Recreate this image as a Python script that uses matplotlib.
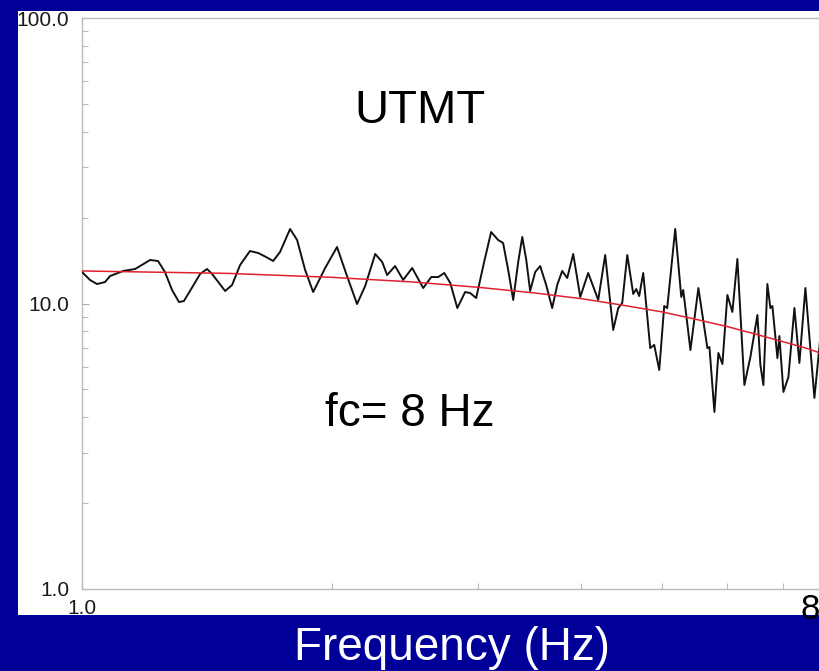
import matplotlib
matplotlib.use("Agg")
import matplotlib.pyplot as plt
from matplotlib.patches import Rectangle
from matplotlib.ticker import NullFormatter

# ---- data ----
freq_hz = [1.000, 1.0225, 1.0425, 1.066, 1.081, 1.121, 1.159, 1.175, 1.208, 1.235,
           1.259, 1.284, 1.309, 1.327, 1.361, 1.388, 1.415, 1.435, 1.488, 1.517,
           1.551, 1.594, 1.631, 1.667, 1.700, 1.733, 1.782, 1.817, 1.858, 1.900,
           1.964, 2.030, 2.087, 2.146, 2.195, 2.257, 2.301, 2.333, 2.385, 2.439,
           2.501, 2.579, 2.637, 2.689, 2.734, 2.780, 2.835, 2.897, 2.938, 2.987,
           3.054, 3.114, 3.175, 3.219, 3.265, 3.311, 3.357, 3.395, 3.433, 3.470,
           3.519, 3.568, 3.628, 3.689, 3.741, 3.793, 3.846, 3.911, 3.988, 4.077,
           4.192, 4.274, 4.370, 4.432, 4.481, 4.544, 4.620, 4.659, 4.697, 4.750,
           4.843, 4.897, 4.966, 5.035, 5.077, 5.191, 5.279, 5.308, 5.415, 5.536,
           5.676, 5.708, 5.788, 5.852, 5.918, 6.000, 6.084, 6.169, 6.290, 6.396,
           6.522, 6.576, 6.631, 6.705, 6.761, 6.799, 6.894, 6.932, 7.010, 7.108,
           7.227, 7.328, 7.451, 7.640, 7.768]
spectrum = [12.89, 12.09, 11.70, 11.89, 12.48, 13.00, 13.21, 13.53, 14.20, 14.09,
            12.89, 11.15, 10.12, 10.20, 11.52, 12.69, 13.21, 12.69, 11.06, 11.61,
            13.64, 15.27, 15.03, 14.55, 14.09, 15.15, 18.24, 16.69, 13.10, 10.97,
            13.31, 15.77, 12.48, 9.96, 11.52, 14.91, 13.98, 12.58, 13.53, 12.09,
            13.31, 11.33, 12.38, 12.38, 12.79, 11.80, 9.64, 10.97, 10.88, 10.45,
            13.98, 17.80, 16.69, 16.29, 13.10, 10.29, 13.98, 17.10, 14.20, 11.06,
            12.89, 13.53, 11.61, 9.64, 11.61, 13.00, 12.28, 14.91, 10.54, 12.79,
            10.29, 14.79, 8.08, 9.64, 10.04, 14.79, 10.80, 11.24, 10.62, 12.79,
            6.98, 7.16, 5.85, 9.80, 9.64, 18.24, 10.54, 11.15, 6.87, 11.33,
            6.98, 7.04, 4.17, 6.71, 6.14, 10.71, 9.34, 14.32, 5.18, 6.50,
            9.11, 6.09, 5.18, 11.70, 9.64, 9.80, 6.44, 7.69, 4.90, 5.53,
            9.64, 6.19, 11.33, 4.67, 7.63]

model_freq = [1.0, 1.5, 2.0, 2.5, 3.0, 3.5, 4.0, 4.5, 5.0, 5.5, 6.0, 6.5, 7.0, 7.5, 8.0]
model_amp = [13.0, 12.75, 12.35, 11.9, 11.4, 10.9, 10.4, 9.85, 9.35, 8.8, 8.3, 7.8, 7.35, 6.95, 6.5]

y_ticks = [1, 10, 100]
y_tick_labels = ["1.0", "10.0", "100.0"]
x_ticks = [1]
x_tick_labels = ["1.0"]
x_minor = [2, 3, 4, 5, 6, 7]

plt.rcParams['font.family'] = ['Liberation Sans', 'DejaVu Sans']

W, H = 820, 671
fig = plt.figure(figsize=(W / 100, H / 100), dpi=100)
navy = '#000099'
fig.patch.set_facecolor(navy)

# white panel
fig.patches.append(Rectangle((18 / W, (H - 615) / H), 802 / W, 604 / H,
                             transform=fig.transFigure, facecolor='white',
                             edgecolor='none', zorder=-5))

ax = fig.add_axes([82 / W, (H - 589) / H, (831 - 82) / W, 571 / H], zorder=2)
ax.set_facecolor('white')
ax.set_xscale('log')
ax.set_yscale('log')
ax.set_xlim(1, 8)
ax.set_ylim(1, 100)

ax.plot(freq_hz, spectrum, color='#111111', lw=1.4, zorder=3,
        solid_joinstyle='round', solid_capstyle='round')
ax.plot(model_freq, model_amp, color='#e0202e', lw=1.1, zorder=4)

for side in ['left', 'bottom', 'top']:
    ax.spines[side].set_color('#bbbbbb')
    ax.spines[side].set_linewidth(1.0)
ax.spines['right'].set_visible(False)

ax.set_yticks(y_ticks)
ax.set_yticklabels(y_tick_labels)
ax.set_xticks(x_ticks)
ax.set_xticklabels(x_tick_labels)
ax.set_xticks(x_minor, minor=True)
ax.xaxis.set_minor_formatter(NullFormatter())
ax.yaxis.set_minor_formatter(NullFormatter())
ax.tick_params(axis='both', which='major', direction='in', length=5, width=0.8,
               color='#aaaaaa', labelsize=15, labelcolor='#1a1a1a')
ax.tick_params(axis='both', which='minor', direction='in', length=4, width=0.8,
               color='#bbbbbb')
ax.tick_params(axis='y', which='major', pad=9)
ax.tick_params(axis='x', which='major', pad=7)

fig.text(420 / W, (H - 123) / H, "UTMT", fontsize=34, color='black',
         ha='center', va='baseline', zorder=5)
fig.text(410 / W, (H - 426) / H, "fc= 8 Hz", fontsize=33, color='black',
         ha='center', va='baseline', zorder=5)
fig.text(810 / W, (H - 619) / H, "8", fontsize=25, color='black',
         ha='center', va='baseline', zorder=5)
fig.text(452 / W, (H - 660) / H, "Frequency (Hz)", fontsize=33, color='white',
         ha='center', va='baseline', zorder=5)

fig.savefig('out.png', dpi=100, facecolor=navy)
